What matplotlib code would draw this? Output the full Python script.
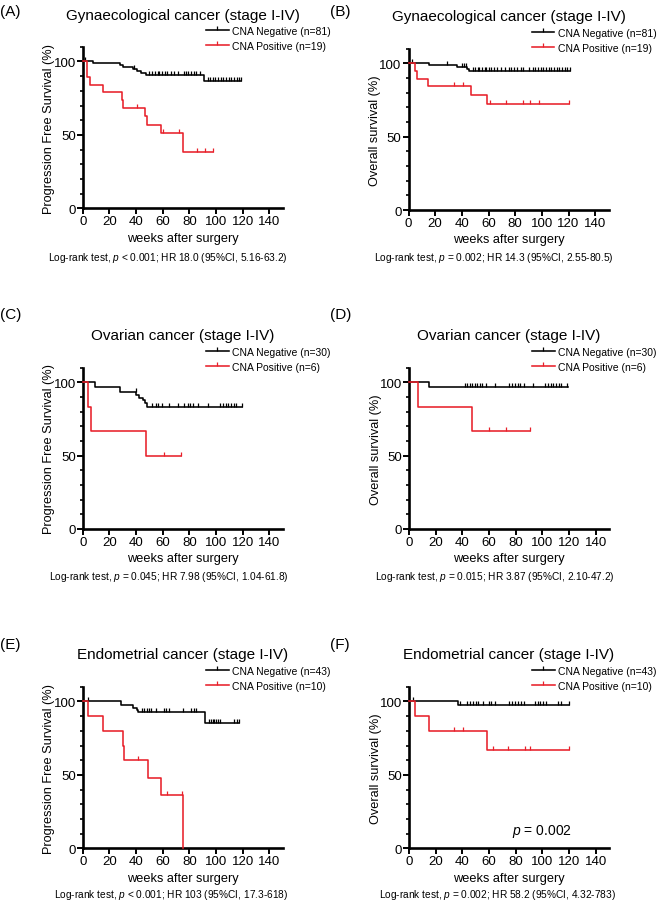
import matplotlib.pyplot as plt
import numpy as np
from matplotlib.lines import Line2D
from matplotlib.path import Path
from matplotlib.ticker import MultipleLocator

plt.rcParams['font.family'] = 'Liberation Sans'
plt.rcParams['mathtext.fontset'] = 'custom'
plt.rcParams['mathtext.rm'] = 'Liberation Sans'
plt.rcParams['mathtext.it'] = 'Liberation Sans:italic'

RED = '#e8202a'
TICK = Path([(0, 0), (0, 1)])

# (A) gynaecological, PFS
A_NEG_T = [0, 8, 28, 30, 38, 41, 44, 47.5, 91]
A_NEG_S = [100, 98.8, 97.5, 96.3, 95.0, 93.7, 92.4, 90.5, 86.9]
A_NEG_END = 119
A_NEG_CENS = [1.75, 38.75, 50, 51.75, 54.25, 56.25, 57.5, 59.25, 61.75, 63.25, 66.25, 68.75, 71.25,
              75.75, 77.5, 79.25, 81.25, 83.75, 85, 88.25, 93.75, 95.5, 97.5, 99.5, 101.5, 103.5,
              105.5, 107.5, 109.5, 111.5, 113.5, 115.5, 117.5, 119]
A_POS_T = [0, 3.25, 5.75, 15, 29.5, 30.5, 47, 48.5, 58.5, 75]
A_POS_S = [100, 89.5, 84.2, 78.9, 73.7, 68.4, 62.7, 57.0, 51.0, 38.5]
A_POS_END = 98
A_POS_CENS = [40.5, 60.5, 72, 85.5, 92, 97.5]

# (B) gynaecological, OS
B_NEG_T = [0, 15, 36, 44, 45.5]
B_NEG_S = [100, 98.8, 97.5, 96.2, 95.0]
B_NEG_END = 121
B_NEG_CENS = [2.5, 29, 40, 41.5, 43, 48, 50, 52, 53, 55, 57, 58, 60, 62, 64, 66, 69, 72, 75, 77,
              79, 81, 84, 86, 90, 93, 95, 97, 99, 101, 103, 105, 107, 109, 111, 113, 115, 117, 119, 121]
B_POS_T = [0, 4.5, 6.5, 14.5, 47, 58.5]
B_POS_S = [100, 94.7, 89.5, 84.2, 78.4, 71.9]
B_POS_END = 120
B_POS_CENS = [34, 41, 61, 73, 86, 91, 97.5, 120]

# (C) ovarian, PFS
C_NEG_T = [0, 9.25, 28.25, 40.25, 42, 45.25, 46.75, 48.25]
C_NEG_S = [100, 96.7, 93.3, 91.4, 89.5, 87.6, 85.6, 83.3]
C_NEG_END = 119.5
C_NEG_CENS = [39.75, 52.25, 54.75, 56.75, 59.25, 65, 71.25, 75.75, 78.75, 80.5, 82.5, 86.25, 93.75,
              103.25, 105.25, 107.25, 109.25, 111.25, 113.25, 115.25, 119.5]
C_POS_T = [0, 4.25, 6.25, 47.75]
C_POS_S = [100, 83.3, 66.7, 50.0]
C_POS_END = 73.75
C_POS_CENS = [60.75, 73.75]

# (D) ovarian, OS
D_NEG_T = [0, 14.75]
D_NEG_S = [100, 96.7]
D_NEG_END = 119
D_NEG_CENS = [41.75, 43.5, 45.5, 47.5, 49.25, 51, 53, 55, 58, 64.25, 75, 77.5, 79.5, 81.5, 83, 86.25,
              93, 102.25, 104.25, 106.25, 108.25, 110.25, 112.25, 114.25, 118.75]
D_POS_T = [0, 6.5, 47]
D_POS_S = [100, 83.3, 66.7]
D_POS_END = 91
D_POS_CENS = [60, 72.5, 91]

# (E) endometrial, PFS
E_NEG_T = [0, 28.5, 38, 40.5, 41.5, 91.5]
E_NEG_S = [100, 97.7, 95.3, 94.2, 92.6, 85.6]
E_NEG_END = 117
E_NEG_CENS = [3.75, 44.5, 46.25, 48, 49.75, 51.25, 55, 60.75, 62.25, 65, 75.25, 81.25, 83.25, 85.25,
              95, 96.25, 97.5, 98.75, 100, 101.25, 103.25, 113.25, 115.75, 117.25]
E_POS_T = [0, 4.25, 15, 30, 31.25, 49.25, 59, 75.25]
E_POS_S = [100, 90, 80, 70, 60, 48, 36, 0]
E_POS_END = 75.25
E_POS_CENS = [41.25, 63.25, 74.5]

# (F) endometrial, OS
F_NEG_T = [0, 36.5]
F_NEG_S = [100, 97.7]
F_NEG_END = 120
F_NEG_CENS = [3, 38, 43.5, 45.5, 48, 50, 51.75, 55.5, 60, 61.5, 64.25, 75, 77.5, 79.5, 81.5, 84,
              86.25, 94.25, 96.75, 98.5, 100.5, 102.5, 111.75, 114.25, 120]
F_POS_T = [0, 4.75, 14.75, 58.5]
F_POS_S = [100, 90, 80, 66.7]
F_POS_END = 119.75
F_POS_CENS = [33.5, 40.5, 63, 74.25, 86.75, 90.75, 119.75]

TITLES = ['Gynaecological cancer (stage I-IV)', 'Gynaecological cancer (stage I-IV)',
          'Ovarian cancer (stage I-IV)', 'Ovarian cancer (stage I-IV)',
          'Endometrial cancer (stage I-IV)', 'Endometrial cancer (stage I-IV)']
YLABELS = ['Progression Free Survival (%)', 'Overall survival (%)'] * 3
N_NEG = [81, 81, 30, 30, 43, 43]
N_POS = [19, 19, 6, 6, 10, 10]
FOOTNOTES = ['Log-rank test, $p$ < 0.001; HR 18.0 (95%CI, 5.16-63.2)',
             'Log-rank test, $p$ = 0.002; HR 14.3 (95%CI, 2.55-80.5)',
             'Log-rank test, $p$ = 0.045; HR 7.98 (95%CI, 1.04-61.8)',
             'Log-rank test, $p$ = 0.015; HR 3.87 (95%CI, 2.10-47.2)',
             'Log-rank test, $p$ < 0.001; HR 103 (95%CI, 17.3-618)',
             'Log-rank test, $p$ = 0.002; HR 58.2 (95%CI, 4.32-783)']
LETTERS = ['(A)', '(B)', '(C)', '(D)', '(E)', '(F)']

SERIES = [
    (A_NEG_T, A_NEG_S, A_NEG_END, A_NEG_CENS, A_POS_T, A_POS_S, A_POS_END, A_POS_CENS),
    (B_NEG_T, B_NEG_S, B_NEG_END, B_NEG_CENS, B_POS_T, B_POS_S, B_POS_END, B_POS_CENS),
    (C_NEG_T, C_NEG_S, C_NEG_END, C_NEG_CENS, C_POS_T, C_POS_S, C_POS_END, C_POS_CENS),
    (D_NEG_T, D_NEG_S, D_NEG_END, D_NEG_CENS, D_POS_T, D_POS_S, D_POS_END, D_POS_CENS),
    (E_NEG_T, E_NEG_S, E_NEG_END, E_NEG_CENS, E_POS_T, E_POS_S, E_POS_END, E_POS_CENS),
    (F_NEG_T, F_NEG_S, F_NEG_END, F_NEG_CENS, F_POS_T, F_POS_S, F_POS_END, F_POS_CENS),
]

W, H = 660, 904
# axes placement in pixels: left edge, y of the zero line
AX_PIX = [(82.7, 209.3), (408.5, 211), (82.7, 530), (409, 530), (82.7, 849.3), (409, 849.3)]
LETTER_Y = [12, 12, 315, 315, 645, 645]
FOOT_POS = [(168, 258), (494, 258), (169, 577), (495, 577), (171, 895), (497, 895)]


def km(ax, t, s, end, cens, color):
    tt = list(t) + [end]
    ss = list(s) + [s[-1]]
    ax.step(tt, ss, where='post', color=color, lw=1.15, clip_on=False, zorder=3)
    idx = np.searchsorted(t, cens, side='right') - 1
    ax.plot(cens, np.array(s)[idx], ls='none', marker=TICK, ms=6, mew=0.9,
            color=color, clip_on=False, zorder=3)


fig = plt.figure(figsize=(W / 100, H / 100), dpi=100)

for i in range(6):
    left, y0 = AX_PIX[i]
    ax = fig.add_axes([left / W, 1 - y0 / H, 200 / W, 161.5 / H])
    nt, ns, ne, nc, pt, ps, pe, pc = SERIES[i]
    km(ax, nt, ns, ne, nc, 'black')
    km(ax, pt, ps, pe, pc, RED)

    ax.set_xlim(0, 150)
    ax.set_ylim(0, 110)
    ax.set_xticks(np.arange(0, 141, 20))
    ax.set_yticks([0, 50, 100])
    ax.yaxis.set_minor_locator(MultipleLocator(10))
    for sp in ['top', 'right']:
        ax.spines[sp].set_visible(False)
    for sp in ['left', 'bottom']:
        ax.spines[sp].set_linewidth(1.9)
    ax.tick_params(axis='both', which='major', length=4, width=1.4, labelsize=9.5, pad=1)
    ax.tick_params(axis='y', which='minor', length=2.5, width=1.2)

    ax.set_xlabel('weeks after surgery', fontsize=9.2)
    ax.xaxis.set_label_coords(0.5, -0.145)
    ax.set_ylabel(YLABELS[i], fontsize=9.2)
    ax.yaxis.set_label_coords(-0.137, 0.5)

    ax.text(0.5, 1.2, TITLES[i], transform=ax.transAxes, ha='center', va='center', fontsize=11)

    handles = [Line2D([], [], color='black', lw=1.15, marker=TICK, ms=6, mew=0.9),
               Line2D([], [], color=RED, lw=1.15, marker=TICK, ms=6, mew=0.9)]
    labels = [f'CNA Negative (n={N_NEG[i]})', f'CNA Positive (n={N_POS[i]})']
    ax.legend(handles, labels, loc='upper left', bbox_to_anchor=(0.615, 1.13), frameon=False,
              fontsize=7.5, handlelength=2.2, handletextpad=0.3, labelspacing=0.5,
              borderpad=0, borderaxespad=0, numpoints=1)

    fig.text(0 if i % 2 == 0 else 0.5, 1 - LETTER_Y[i] / H, LETTERS[i], ha='left', va='center',
             fontsize=11)
    fx, fy = FOOT_POS[i]
    fig.text(fx / W, 1 - fy / H, FOOTNOTES[i], ha='center', va='center', fontsize=7.3)

    if i == 5:
        ax.text(122, 12.4, '$p$ = 0.002', ha='right', va='center', fontsize=10)

fig.savefig('out.png', dpi=100)
